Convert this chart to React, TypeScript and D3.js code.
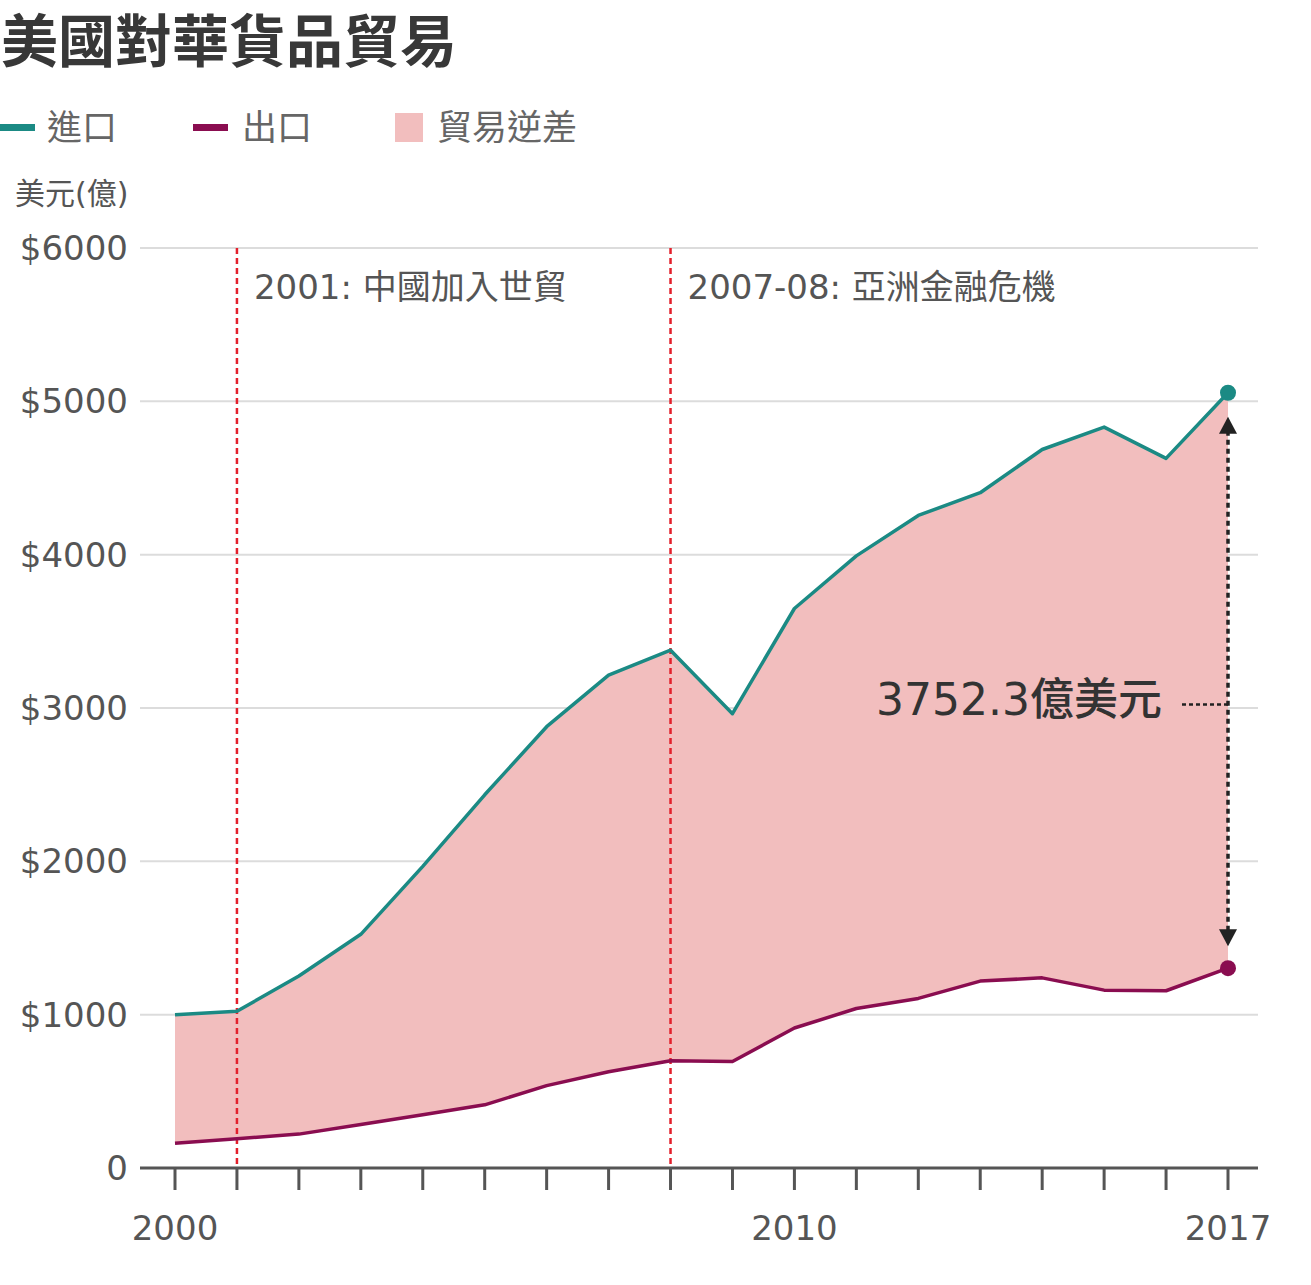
import React from "react";
import * as d3 from "d3";

const years = [2000, 2001, 2002, 2003, 2004, 2005, 2006, 2007, 2008, 2009, 2010, 2011, 2012, 2013, 2014, 2015, 2016, 2017];
const imports = [1000, 1022, 1252, 1524, 1967, 2434, 2878, 3215, 3377, 2963, 3649, 3992, 4256, 4404, 4686, 4832, 4628, 5056];
const exports = [162, 191, 221, 284, 347, 412, 537, 628, 699, 695, 913, 1040, 1106, 1219, 1240, 1160, 1156, 1303];
const yTicks = [0, 1000, 2000, 3000, 4000, 5000, 6000];
const xLabelYears = [2000, 2010, 2017];
const events = [
  { year: 2001, label: "2001: 中國加入世貿" },
  { year: 2008, label: "2007-08: 亞洲金融危機" },
];
const deficitLabel = "3752.3億美元";

const W = 1311;
const H = 1285;
const TEAL = "#1b8a84";
const MAROON = "#8a0d50";
const PINK = "#f2bebe";
const RED = "#e3202c";
const FONT = "'DejaVu Sans', 'Noto Sans CJK TC', sans-serif";
const CJK = "'Noto Sans CJK TC', sans-serif";

export default function App() {
  const x = d3.scaleLinear().domain([2000, 2017]).range([175, 1228]);
  const y = d3.scaleLinear().domain([0, 6000]).range([1168, 248]);
  const data = years.map((yr, i) => ({ yr, imp: imports[i], exp: exports[i] }));
  const area = d3
    .area<any>()
    .x((d) => x(d.yr))
    .y0((d) => y(d.exp))
    .y1((d) => y(d.imp));
  const lineImp = d3.line<any>().x((d) => x(d.yr)).y((d) => y(d.imp));
  const lineExp = d3.line<any>().x((d) => x(d.yr)).y((d) => y(d.exp));
  const last = data[data.length - 1];
  const xLast = x(last.yr);
  const yTop = y(last.imp) + 24;
  const yBot = y(last.exp) - 22;
  const yMid = y((last.imp + last.exp) / 2) + 24;

  return (
    <svg
      width={W}
      height={H}
      style={{ position: "absolute", left: 0, top: 0, background: "#fff" }}
      fontFamily={FONT}
    >
      {/* Title */}
      <text x={1} y={62} fontSize={57} fontWeight={700} fill="#383838" fontFamily={CJK}>
        美國對華貨品貿易
      </text>
      {/* Legend */}
      <rect x={0} y={124} width={35} height={7} fill={TEAL} />
      <text x={47} y={140} fontSize={35} fill="#666" fontFamily={CJK}>進口</text>
      <rect x={193} y={124} width={35} height={7} fill={MAROON} />
      <text x={242} y={140} fontSize={35} fill="#666" fontFamily={CJK}>出口</text>
      <rect x={395} y={113} width={28} height={29} fill={PINK} />
      <text x={437} y={140} fontSize={35} fill="#666" fontFamily={CJK}>貿易逆差</text>
      {/* Unit */}
      <text x={15} y={204} fontSize={30} fill="#555">美元(億)</text>

      {/* Gridlines */}
      {yTicks.filter((t) => t > 0).map((t) => (
        <line key={t} x1={140} x2={1258} y1={y(t)} y2={y(t)} stroke="#dcdcdc" strokeWidth={2} />
      ))}
      {/* Y labels */}
      {yTicks.map((t) => (
        <text key={t} x={128} y={y(t) + 12} fontSize={34} fill="#555" textAnchor="end">
          {t === 0 ? "0" : `$${t}`}
        </text>
      ))}

      {/* Area */}
      <path d={area(data) || ""} fill={PINK} />

      {/* Event lines */}
      {events.map((e) => (
        <g key={e.year}>
          <line x1={x(e.year)} x2={x(e.year)} y1={y(6000)} y2={y(0)} stroke={RED} strokeWidth={2.5} strokeDasharray="6 4" />
          <text x={x(e.year) + 17} y={299} fontSize={34} fill="#555">{e.label}</text>
        </g>
      ))}

      {/* Lines */}
      <path d={lineImp(data) || ""} fill="none" stroke={TEAL} strokeWidth={3.5} strokeLinejoin="round" />
      <path d={lineExp(data) || ""} fill="none" stroke={MAROON} strokeWidth={3.5} strokeLinejoin="round" />
      <circle cx={xLast} cy={y(last.imp)} r={8} fill={TEAL} />
      <circle cx={xLast} cy={y(last.exp)} r={8} fill={MAROON} />

      {/* Deficit arrow */}
      <line
        x1={xLast}
        x2={xLast}
        y1={yTop + 14}
        y2={yBot - 14}
        stroke="#222"
        strokeWidth={3.5}
        strokeDasharray="5 4"
      />
      <path d={`M${xLast},${yTop} L${xLast + 9},${yTop + 17} L${xLast - 9},${yTop + 17} Z`} fill="#222" />
      <path d={`M${xLast},${yBot} L${xLast + 9},${yBot - 17} L${xLast - 9},${yBot - 17} Z`} fill="#222" />
      <line x1={1182} x2={xLast} y1={yMid} y2={yMid} stroke="#222" strokeWidth={2.5} strokeDasharray="4 3" />
      <text x={1162} y={yMid + 11} fontSize={44} fontWeight={500} fill="#333" textAnchor="end">
        {deficitLabel}
      </text>

      {/* X axis */}
      <line x1={140} x2={1258} y1={y(0)} y2={y(0)} stroke="#555" strokeWidth={3} />
      {years.map((yr) => (
        <line key={yr} x1={x(yr)} x2={x(yr)} y1={y(0)} y2={y(0) + 22} stroke="#555" strokeWidth={3} />
      ))}
      {xLabelYears.map((yr) => (
        <text key={yr} x={x(yr)} y={1240} fontSize={34} fill="#555" textAnchor="middle">
          {yr}
        </text>
      ))}
    </svg>
  );
}
